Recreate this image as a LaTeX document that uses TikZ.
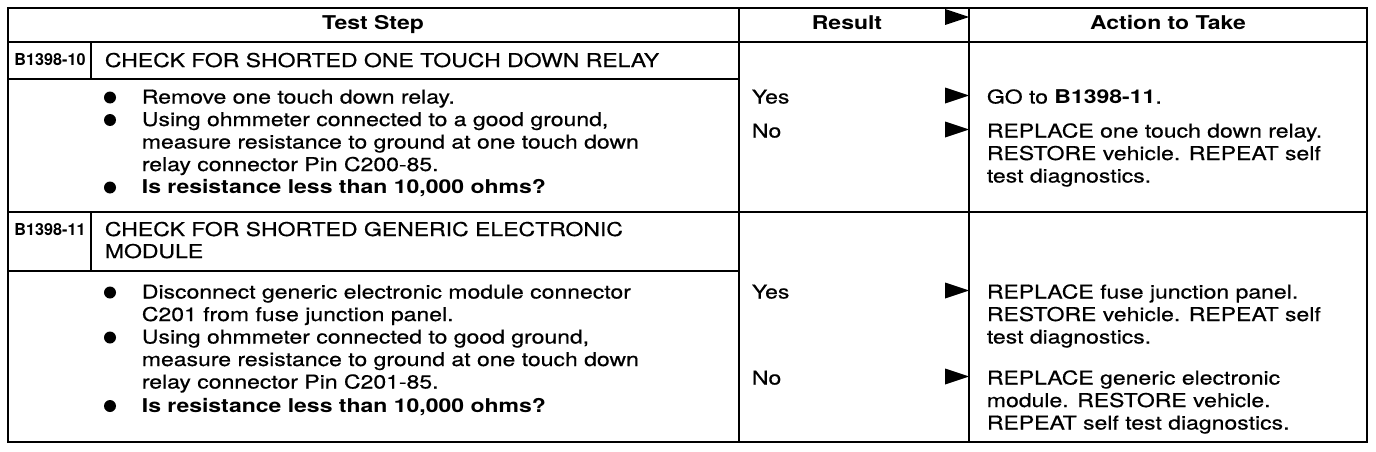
\documentclass[tikz,border=0pt]{standalone}
\usepackage{fontspec}
\setmainfont{TeX Gyre Heros}[FakeStretch=1.21,UprightFeatures={FakeBold=0.5}]
\newfontfamily\labfont{TeX Gyre Heros}[FakeStretch=0.98]
\begin{document}
\begin{tikzpicture}[x=1pt,y=-1pt,line width=1.8pt,
  txt/.style={inner sep=0pt,anchor=base west,font=\fontsize{19}{22}\selectfont},
  btxt/.style={txt,font=\bfseries\fontsize{19}{22}\selectfont},
  hdr/.style={inner sep=0pt,anchor=base,font=\bfseries\fontsize{19}{22}\selectfont},
  lab/.style={inner sep=0pt,anchor=base,font=\labfont\bfseries\fontsize{16.5}{18}\selectfont},
  bul/.style={circle,fill=black,inner sep=0pt,minimum size=12pt},
  tri/.style={fill=black,draw=none}
]
\useasboundingbox (0,0) rectangle (1376,452);
% table frame
\draw (8,8) rectangle (1367,442);
\draw (8,42) -- (1367,42);
\draw (739,8) -- (739,442);
\draw (969,8) -- (969,442);
\draw (8,79) -- (739,79);
\draw (91,42) -- (91,79);
\draw (8,212) -- (1367,212);
\draw (8,271) -- (739,271);
\draw (91,212) -- (91,271);
% header
\node[hdr] (h1) at (373,30) {Test Step};
\node[hdr] (h2) at (847,30) {Result};
\node[hdr] (h3) at (1168,30) {Action to Take};
\path[tri] (945,9) -- (969,17) -- (945,25) -- cycle;
% row 1
\node[lab] (l1) at (50,66) {B1398-10};
\node[txt] (t1) at (104,67) {CHECK FOR SHORTED ONE TOUCH DOWN RELAY};
\node[bul] (b11) at (110,97.5) {};
\node[bul] (b12) at (110,120) {};
\node[bul] (b13) at (110,187.5) {};
\node[txt] (r11) at (141,103.5) {Remove one touch down relay.};
\node[txt] (r12) at (141,126) {Using ohmmeter connected to a good ground,};
\node[txt] (r13) at (141,148.5) {measure resistance to ground at one touch down};
\node[txt] (r14) at (141,171) {relay connector Pin C200-85.};
\node[btxt] (r15) at (141,193.5) {Is resistance less than 10,000 ohms?};
\node[txt] (y1) at (751,103.5) {Yes};
\node[txt] (n1) at (751,137.5) {No};
\path[tri] (945,87.5) -- (969,95.5) -- (945,103.5) -- cycle;
\path[tri] (945,121.5) -- (969,129.5) -- (945,137.5) -- cycle;
\node[txt] (a11) at (986,103.5) {GO to \textbf{B1398-11}.};
\node[txt] (a12) at (986,137.5) {REPLACE one touch down relay.};
\node[txt] (a13) at (986,160) {RESTORE vehicle. REPEAT self};
\node[txt] (a14) at (986,182.5) {test diagnostics.};
% row 2
\node[lab] (l2) at (50,235) {B1398-11};
\node[txt] (t2) at (104,236) {CHECK FOR SHORTED GENERIC ELECTRONIC};
\node[txt] (t2b) at (104,258) {MODULE};
\node[bul] (b21) at (110,292.5) {};
\node[bul] (b22) at (110,337.5) {};
\node[bul] (b23) at (110,406) {};
\node[txt] (r21) at (141,298.5) {Disconnect generic electronic module connector};
\node[txt] (r22) at (141,321) {C201 from fuse junction panel.};
\node[txt] (r23) at (141,343.5) {Using ohmmeter connected to good ground,};
\node[txt] (r24) at (141,366) {measure resistance to ground at one touch down};
\node[txt] (r25) at (141,388.5) {relay connector Pin C201-85.};
\node[btxt] (r26) at (141,412) {Is resistance less than 10,000 ohms?};
\node[txt] (y2) at (751,298.5) {Yes};
\node[txt] (n2) at (751,384.5) {No};
\path[tri] (945,282.5) -- (969,290.5) -- (945,298.5) -- cycle;
\path[tri] (945,368.5) -- (969,376.5) -- (945,384.5) -- cycle;
\node[txt] (a21) at (986,298.5) {REPLACE fuse junction panel.};
\node[txt] (a22) at (986,321) {RESTORE vehicle. REPEAT self};
\node[txt] (a23) at (986,343.5) {test diagnostics.};
\node[txt] (a24) at (986,384.5) {REPLACE generic electronic};
\node[txt] (a25) at (986,407) {module. RESTORE vehicle.};
\node[txt] (a26) at (986,429.5) {REPEAT self test diagnostics.};
\end{tikzpicture}
\end{document}
